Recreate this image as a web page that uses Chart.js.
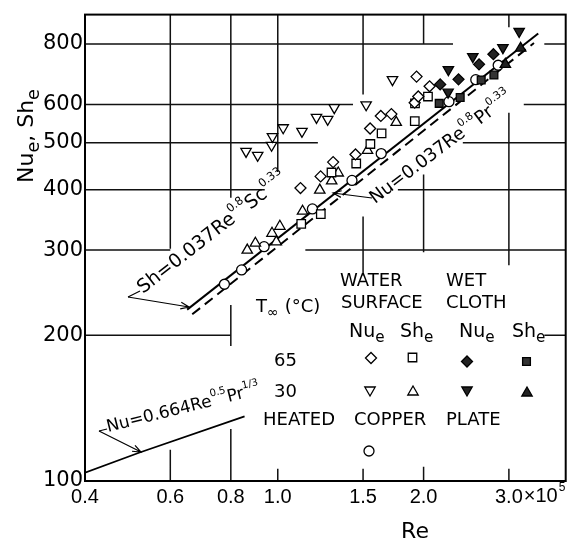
<!DOCTYPE html>
<html>
<head>
<meta charset="utf-8">
<script src="https://cdn.jsdelivr.net/npm/chart.js@4/dist/chart.umd.min.js"></script>
<style>
  html, body { margin: 0; padding: 0; background: #fff; }
</style>
</head>
<body>
<canvas id="c" width="573" height="540"></canvas>
<script>
// Re values are in units of 10^5
const xTicks = [0.4, 0.6, 0.8, 1.0, 1.5, 2.0, 3.0];
const xTickLabels = ['0.4', '0.6', '0.8', '1.0', '1.5', '2.0', '3.0'];
const yTicks = [100, 200, 300, 400, 500, 600, 800];

// water surface, 65 C
const wsNu65Re = [1.114, 1.226, 1.301, 1.447, 1.551, 1.632, 1.716, 1.917, 1.950, 1.934, 2.058];
const wsNu65 = [403, 426, 456, 473, 535, 568, 573, 605, 623, 685, 654];
const wsSh65Re = [1.118, 1.227, 1.291, 1.452, 1.553, 1.638, 1.918, 1.920, 2.042];
const wsSh65 = [340, 356, 434, 453, 497, 523, 554, 603, 623];
// water surface, 30 C
const wsNu30Re = [0.860, 0.909, 0.971, 0.975, 1.026, 1.122, 1.202, 1.268, 1.308, 1.522, 1.725];
const wsNu30 = [480, 471, 494, 515, 537, 528, 564, 559, 591, 599, 675];
const wsSh30Re = [0.865, 0.899, 0.973, 0.993, 1.010, 1.125, 1.221, 1.292, 1.333, 1.532, 1.756];
const wsSh30 = [300, 310, 325, 312, 336, 361, 399, 417, 433, 482, 551];
// wet cloth
const wcNu65Re = [2.164, 2.361, 2.603, 2.787];
const wcNu65 = [660, 676, 726, 762];
const wcSh65Re = [2.154, 2.380, 2.630, 2.794];
const wcSh65 = [603, 620, 674, 690];
const wcNu30Re = [2.247, 2.250, 2.527, 2.916, 3.150];
const wcNu30 = [636, 708, 753, 786, 849];
const wcSh30Re = [2.950, 3.172];
const wcSh30 = [726, 784];
// heated copper plate
const cuRe = [0.776, 0.842, 0.937, 1.179, 1.423, 1.635, 2.256, 2.563, 2.851];
const cuNu = [255, 273, 305, 365, 418, 475, 608, 675, 723];
// correlation lines
const shLineRe = [0.650, 3.449];
const shLine = [226, 841];
const nuLineRe = [0.666, 3.380];
const nuLine = [221, 804];
const lamLineRe = [0.40, 0.517, 0.854];
const lamLine = [104, 114.4, 136];

// pieces of grid that the original figure keeps (value, from, to)
const vSegs = [
  [0.6, 100, 116], [0.6, 302, 920],
  [0.8, 100, 128], [0.8, 190, 231], [0.8, 385, 920],
  [1.0, 100, 106], [1.0, 435, 920],
  [1.5, 100, 106], [1.5, 266, 352], [1.5, 629, 920],
  [2.0, 100, 107], [2.0, 297, 430], [2.0, 802, 920],
  [3.0, 100, 106], [3.0, 279, 577], [3.0, 866, 920]
];
const hSegs = [
  [800, 0.4, 2.3], [800, 3.55, 3.93],
  [600, 0.4, 1.43], [600, 3.22, 3.93],
  [500, 0.4, 1.21], [500, 2.41, 3.93],
  [400, 0.4, 0.94], [400, 1.77, 3.93],
  [300, 0.4, 0.6], [300, 1.14, 3.93],
  [200, 0.4, 0.8], [200, 3.55, 3.93]
];

const FONT = '"DejaVu Sans", sans-serif';
const pts = (xs, ys) => xs.map((x, i) => ({ x: x, y: ys[i] }));

function marker(data, style, r, rot, fill) {
  return {
    type: 'scatter', data: data, pointStyle: style, pointRadius: r, pointHoverRadius: r,
    pointRotation: rot, backgroundColor: fill, borderColor: '#000', borderWidth: 1.3, order: 1
  };
}
function corr(data, dash, w) {
  return {
    type: 'line', data: data, borderColor: '#000', borderWidth: w, borderDash: dash,
    pointRadius: 0, fill: false, tension: 0, order: 5
  };
}

// text with super/subscripts, optionally rotated
function rich(ctx, x, y, deg, size, parts) {
  ctx.save();
  ctx.translate(x, y);
  ctx.rotate(deg * Math.PI / 180);
  ctx.fillStyle = '#000';
  ctx.textAlign = 'left';
  ctx.textBaseline = 'alphabetic';
  let cx = 0;
  parts.forEach(([t, kind]) => {
    let fs = size, dy = 0;
    if (kind === 'sup') { fs = size * 0.6; dy = -size * 0.55; }
    if (kind === 'sub') { fs = size * 0.8; dy = size * 0.28; }
    ctx.font = fs + 'px ' + FONT;
    ctx.fillText(t, cx, dy);
    cx += ctx.measureText(t).width;
  });
  ctx.restore();
}

function arrow(ctx, x1, y1, x2, y2) {
  const a = Math.atan2(y2 - y1, x2 - x1);
  ctx.beginPath();
  ctx.moveTo(x1, y1);
  ctx.lineTo(x2, y2);
  ctx.moveTo(x2 - 9 * Math.cos(a - 0.38), y2 - 9 * Math.sin(a - 0.38));
  ctx.lineTo(x2, y2);
  ctx.lineTo(x2 - 9 * Math.cos(a + 0.38), y2 - 9 * Math.sin(a + 0.38));
  ctx.stroke();
}

function sym(ctx, style, r, rot, fill, x, y) {
  ctx.save();
  ctx.fillStyle = fill;
  ctx.strokeStyle = '#000';
  ctx.lineWidth = 1.3;
  Chart.helpers.drawPoint(ctx, { pointStyle: style, radius: r, rotation: rot, borderWidth: 1.3 }, x, y);
  ctx.restore();
}

const decor = {
  id: 'decor',
  beforeDatasetsDraw(chart) {
    const { ctx, scales: { x, y } } = chart;
    ctx.save();
    ctx.strokeStyle = '#111';
    ctx.lineWidth = 1.5;
    ctx.beginPath();
    vSegs.forEach(([v, a, b]) => {
      const px = x.getPixelForValue(v);
      ctx.moveTo(px, y.getPixelForValue(a));
      ctx.lineTo(px, y.getPixelForValue(b));
    });
    hSegs.forEach(([v, a, b]) => {
      const py = y.getPixelForValue(v);
      ctx.moveTo(x.getPixelForValue(a), py);
      ctx.lineTo(x.getPixelForValue(b), py);
    });
    ctx.stroke();
    ctx.restore();
  },
  afterDatasetsDraw(chart) {
    const { ctx, chartArea: ca, scales: { x } } = chart;
    ctx.save();
    // frame
    ctx.strokeStyle = '#000';
    ctx.lineWidth = 2;
    ctx.strokeRect(ca.left, ca.top, ca.right - ca.left, ca.bottom - ca.top);

    // equation labels and arrows
    ctx.lineWidth = 1.2;
    rich(ctx, 143, 294, -38, 19, [['Sh=0.037Re', ''], ['0.8', 'sup'], ['Sc', ''], ['0.33', 'sup']]);
    arrow(ctx, 128, 297, 189, 307);
    ctx.beginPath(); ctx.moveTo(128, 297); ctx.lineTo(140, 291); ctx.stroke();

    rich(ctx, 375, 204, -37, 18, [['Nu=0.037Re', ''], ['0.8', 'sup'], ['Pr', ''], ['0.33', 'sup']]);
    arrow(ctx, 372, 198, 333, 193);

    rich(ctx, 108, 432, -14, 17, [['Nu=0.664Re', ''], ['0.5', 'sup'], ['Pr', ''], ['1/3', 'sup']]);
    arrow(ctx, 99, 431, 141, 452);
    ctx.beginPath(); ctx.moveTo(99, 431); ctx.lineTo(107, 429); ctx.stroke();

    // legend table
    ctx.fillStyle = '#000';
    ctx.font = '18px ' + FONT;
    ctx.textBaseline = 'alphabetic';
    ctx.textAlign = 'left';
    ctx.fillText('WATER', 340, 286);
    ctx.fillText('SURFACE', 341, 308);
    ctx.fillText('WET', 446, 286);
    ctx.fillText('CLOTH', 446, 308);
    rich(ctx, 256, 312, 0, 18, [['T', ''], ['\u221E', 'sub'], [' (\u00B0C)', '']]);
    rich(ctx, 349, 337, 0, 19, [['Nu', ''], ['e', 'sub']]);
    rich(ctx, 400, 337, 0, 19, [['Sh', ''], ['e', 'sub']]);
    rich(ctx, 459, 337, 0, 19, [['Nu', ''], ['e', 'sub']]);
    rich(ctx, 512, 337, 0, 19, [['Sh', ''], ['e', 'sub']]);
    ctx.font = '18px ' + FONT;
    ctx.fillText('65', 274, 366);
    ctx.fillText('30', 274, 397);
    ctx.fillText('HEATED', 263, 425);
    ctx.fillText('COPPER', 354, 425);
    ctx.fillText('PLATE', 446, 425);
    sym(ctx, 'rectRot', 5.5, 0, '#fff', 371, 358);
    sym(ctx, 'rect', 6, 0, '#fff', 412.5, 357.5);
    sym(ctx, 'rectRot', 5.5, 0, '#222', 467, 361.5);
    sym(ctx, 'rect', 5.5, 0, '#333', 526.5, 361.5);
    sym(ctx, 'triangle', 6, 180, '#fff', 370, 390);
    sym(ctx, 'triangle', 6, 0, '#fff', 413, 392);
    sym(ctx, 'triangle', 6, 180, '#222', 467, 390);
    sym(ctx, 'triangle', 6, 0, '#222', 527, 393);
    sym(ctx, 'circle', 5, 0, '#fff', 369, 451);

    // axis titles
    rich(ctx, 33, 183, -90, 22, [['Nu', ''], ['e', 'sub'], [', Sh', ''], ['e', 'sub']]);
    ctx.font = '22px ' + FONT;
    ctx.textAlign = 'center';
    ctx.fillText('Re', 415, 538);

    // exponent after the last x tick
    const px = x.getPixelForValue(3.0);
    ctx.font = '20px "Liberation Sans", sans-serif';
    const w = ctx.measureText('3.0').width;
    ctx.textAlign = 'left';
    ctx.textBaseline = 'middle';
    ctx.fillText('\u00D710', px + w / 2 + 1, ca.bottom + 15);
    const w2 = ctx.measureText('\u00D710').width;
    ctx.font = '12px "Liberation Sans", sans-serif';
    ctx.fillText('5', px + w / 2 + 2 + w2, ca.bottom + 7);
    ctx.restore();
  }
};

new Chart(document.getElementById('c').getContext('2d'), {
  type: 'scatter',
  data: {
    datasets: [
      marker(pts(wsNu65Re, wsNu65), 'rectRot', 5.5, 0, '#fff'),
      marker(pts(wsSh65Re, wsSh65), 'rect', 6, 0, '#fff'),
      marker(pts(wsNu30Re, wsNu30), 'triangle', 6, 180, '#fff'),
      marker(pts(wsSh30Re, wsSh30), 'triangle', 6, 0, '#fff'),
      marker(pts(wcNu65Re, wcNu65), 'rectRot', 5.5, 0, '#222'),
      marker(pts(wcSh65Re, wcSh65), 'rect', 5.5, 0, '#333'),
      marker(pts(wcNu30Re, wcNu30), 'triangle', 6, 180, '#222'),
      marker(pts(wcSh30Re, wcSh30), 'triangle', 6, 0, '#222'),
      marker(pts(cuRe, cuNu), 'circle', 5, 0, '#fff'),
      corr(pts(shLineRe, shLine), [], 2),
      corr(pts(nuLineRe, nuLine), [10, 6], 2),
      corr(pts(lamLineRe, lamLine), [], 1.8)
    ]
  },
  options: {
    responsive: false,
    devicePixelRatio: 1,
    animation: false,
    layout: { padding: { top: 8, right: 1, left: 0, bottom: 0 } },
    plugins: { legend: { display: false }, tooltip: { enabled: false } },
    scales: {
      x: {
        type: 'logarithmic', min: 0.4, max: 3.93,
        afterBuildTicks: s => { s.ticks = xTicks.map(v => ({ value: v })); },
        afterFit: s => { s.height = 59; },
        grid: { display: false, drawTicks: false },
        border: { display: false },
        ticks: {
          autoSkip: false, maxRotation: 0, padding: 4, color: '#000',
          font: { family: 'Liberation Sans', size: 20 },
          callback: (v, i) => xTickLabels[i]
        }
      },
      y: {
        type: 'logarithmic', min: 100, max: 920,
        afterBuildTicks: s => { s.ticks = yTicks.map(v => ({ value: v })); },
        afterFit: s => { s.width = 85; },
        grid: { display: false, drawTicks: false },
        border: { display: false },
        ticks: {
          autoSkip: false, padding: 2, color: '#000',
          font: { family: 'DejaVu Sans', size: 21 },
          callback: v => String(v)
        }
      }
    }
  },
  plugins: [decor]
});
</script>
</body>
</html>
